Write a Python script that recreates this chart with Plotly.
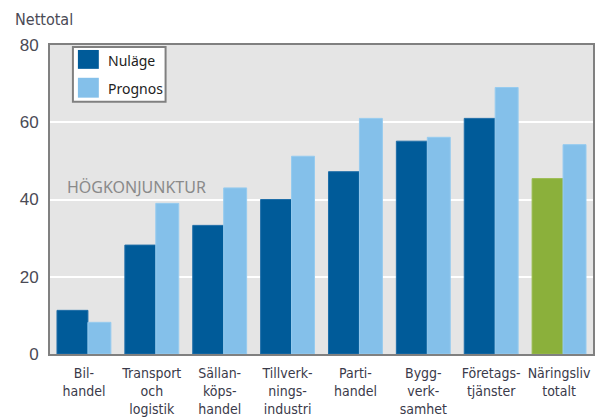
import plotly.graph_objects as go

categories = ["Bil-<br>handel", "Transport<br>och<br>logistik", "Sällan-<br>köps-<br>handel",
              "Tillverk-<br>nings-<br>industri", "Parti-<br>handel", "Bygg-<br>verk-<br>samhet",
              "Företags-<br>tjänster", "Näringsliv<br>totalt"]
nulage = [11.3, 28.2, 33.3, 40.0, 47.2, 55.1, 61.0, 45.4]
prognos = [8.2, 39.0, 43.0, 51.2, 61.0, 56.1, 69.0, 54.2]
y_ticks = [0, 20, 40, 60, 80]

DARK = "#005b99"
LIGHT = "#84c0ea"
GREEN = "#8bb03b"
BG = "#e5e5e5"

W, H = 597, 419
L, R, T, B = 50, 2, 45, 63
pw, ph = W - L - R, H - T - B

def px(x):
    return (x - L) / pw

def py(y):
    return (H - B - y) / ph

xs = list(range(len(categories)))
w1, w2 = 31 / 68, 23 / 68
off1 = -(w1 + w2) / 2

fig = go.Figure()
fig.add_trace(go.Bar(
    x=xs, y=nulage, width=w1, offset=off1, name="Nuläge",
    marker=dict(color=[DARK] * (len(xs) - 1) + [GREEN],
                line=dict(color=["#1f6ea8"] * (len(xs) - 1) + ["#98bb4c"], width=1)),
    showlegend=False,
))
fig.add_trace(go.Bar(
    x=xs, y=prognos, width=w2, offset=off1 + w1, name="Prognos",
    marker=dict(color=LIGHT, line=dict(color="#96cbef", width=1)),
    showlegend=False,
))

CAT_FONT = "Liberation Sans Narrow, DejaVu Sans Condensed, sans-serif"

fig.update_layout(
    width=W, height=H, barmode="overlay",
    margin=dict(l=L, r=R, t=T, b=B),
    paper_bgcolor="white", plot_bgcolor=BG,
    font=dict(family=CAT_FONT, color="#3a3a4a"),
    xaxis=dict(range=[-0.5, len(xs) - 0.5], tickvals=xs, ticktext=categories,
               showgrid=False, zeroline=False, showline=True, linecolor="#808080",
               linewidth=2, mirror=True, ticks="", ticklabelstandoff=5,
               tickfont=dict(size=14, color="#3a3a4a")),
    yaxis=dict(range=[0, 80], tickvals=y_ticks, showgrid=True, gridcolor="white",
               gridwidth=1.5, zeroline=False, showline=True, linecolor="#808080",
               linewidth=2, mirror=True, ticks="", ticklabelstandoff=6,
               tickfont=dict(size=17, family="Liberation Sans, sans-serif", color="#4a4a55")),
)

# Axis title
fig.add_annotation(text="Nettotal", xref="paper", yref="paper", x=px(13), y=py(19),
                   xanchor="left", yanchor="middle", showarrow=False,
                   font=dict(size=16, family=CAT_FONT, color="#4a4a55"))
# HÖGKONJUNKTUR label
fig.add_annotation(text="HÖGKONJUNKTUR", xref="paper", yref="paper", x=px(65), y=py(188),
                   xanchor="left", yanchor="middle", showarrow=False,
                   font=dict(size=16, family="Noto Sans, sans-serif", color="#8a8a8a"))

# Legend drawn manually
fig.add_shape(type="rect", xref="paper", yref="paper", x0=px(73), x1=px(166), y0=py(102), y1=py(47),
              fillcolor="white", line=dict(color="#808080", width=2), layer="above")
fig.add_shape(type="rect", xref="paper", yref="paper", x0=px(78), x1=px(99), y0=py(69), y1=py(50),
              fillcolor=DARK, line=dict(width=0), layer="above")
fig.add_shape(type="rect", xref="paper", yref="paper", x0=px(78), x1=px(99), y0=py(98), y1=py(78),
              fillcolor=LIGHT, line=dict(width=0), layer="above")
for label, yy in [("Nuläge", 61), ("Prognos", 89)]:
    fig.add_annotation(text=label, xref="paper", yref="paper", x=px(106), y=py(yy),
                       xanchor="left", yanchor="middle", showarrow=False,
                       font=dict(size=14, family="Noto Sans, sans-serif", color="#222222"))

fig.write_html("out.html", config={"displayModeBar": False},
               post_script="document.body.style.margin='0';document.body.style.padding='0';")
